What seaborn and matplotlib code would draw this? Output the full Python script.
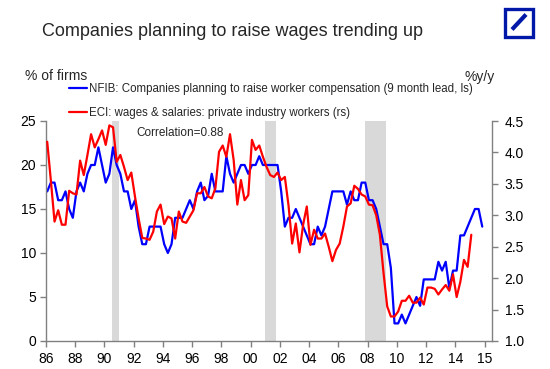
import numpy as np
import pandas as pd
import matplotlib
matplotlib.use("Agg")
import matplotlib.pyplot as plt
from matplotlib.patches import Rectangle
from matplotlib.lines import Line2D
import seaborn as sns

# quarterly readings, first point Feb 1986
nfib = [17, 18, 18, 16, 16, 17, 15, 14, 17, 18,
        17, 19, 20, 20, 22, 20, 18, 19, 22, 20,
        19, 17, 17, 15, 16, 13, 11, 11, 13, 13,
        13, 13, 11, 10, 11, 14, 14, 14, 15, 16,
        15, 17, 18, 16, 16.5, 19, 17, 17, 17, 21,
        19, 18, 19, 20, 20, 19, 20, 20, 21, 20,
        20, 20, 20, 20, 17, 13, 14, 14, 15, 14,
        13, 12, 11, 11, 13, 12, 13, 15, 17, 17,
        17, 17, 15.5, 17, 16, 16, 18, 18, 16, 16,
        15, 13, 11, 11, 8.3, 2, 2, 3, 2, 3,
        4, 5, 4, 7, 7, 7, 7, 9, 8, 9,
        6, 8, 8, 12, 12, 13, 14, 15, 15, 13]

eci = [4.17, 3.55, 2.90, 3.08, 2.85, 2.85, 3.39, 3.35, 3.33, 3.87,
       3.64, 3.96, 4.29, 4.08, 4.21, 4.35, 4.12, 4.43, 4.40, 3.85,
       3.96, 3.77, 3.56, 3.68, 3.30, 2.95, 2.64, 2.63, 2.61, 2.74,
       3.06, 3.17, 2.86, 2.98, 2.95, 2.63, 3.06, 2.90, 2.88, 2.98,
       3.08, 3.35, 3.35, 3.45, 3.30, 3.27, 3.43, 4.01, 4.11, 3.93,
       4.29, 3.88, 3.17, 3.56, 3.24, 3.32, 4.20, 4.04, 4.11, 3.93,
       3.77, 3.64, 3.61, 3.68, 3.56, 3.61, 3.16, 2.55, 2.87, 2.41,
       2.85, 3.14, 2.53, 2.77, 2.63, 2.63, 2.71, 2.50, 2.27, 2.45,
       2.55, 2.82, 3.14, 3.19, 3.47, 3.42, 3.33, 3.30, 3.17, 3.16,
       3.00, 2.69, 2.08, 1.55, 1.39, 1.39, 1.47, 1.64, 1.64, 1.72,
       1.61, 1.61, 1.69, 1.58, 1.85, 1.85, 1.83, 1.74, 1.82, 1.89,
       1.80, 2.06, 1.70, 1.94, 2.29, 2.18, 2.69]

recessions = [(1990.5, 1991.0), (2001.0, 2001.7), (2007.8, 2009.25)]
xticks = list(range(1986, 2017, 2))
xtick_labels = ["86", "88", "90", "92", "94", "96", "98", "00",
                "02", "04", "06", "08", "10", "12", "14", "15"]

nfib_label = "NFIB: Companies planning to raise worker compensation (9 month lead, ls)"
eci_label = "ECI: wages & salaries: private industry workers (rs)"

dates = pd.date_range("1986-02-01", periods=len(nfib), freq="3MS")
year = dates.year + (dates.month - 1) / 12
df_nfib = pd.DataFrame({"year": year, "value": nfib})
df_eci = pd.DataFrame({"year": year[:len(eci)], "value": eci})

sns.set_style("ticks")
plt.rcParams["font.family"] = ["Liberation Sans", "DejaVu Sans"]

GREY = "#808080"
W, H = 550, 369
fig = plt.figure(figsize=(5.5, 3.69), dpi=100)
ax = fig.add_axes([46 / W, 1 - 341 / H, 446 / W, 220 / H])
ax2 = ax.twinx()

for a, b in recessions:
    ax.axvspan(a, b, color="#d9d9d9", lw=0, zorder=0)

sns.lineplot(data=df_nfib, x="year", y="value", ax=ax, color="#0000ff",
             linewidth=1.6, label=nfib_label, legend=False)
sns.lineplot(data=df_eci, x="year", y="value", ax=ax2, color="#ff0000",
             linewidth=1.6, label=eci_label, legend=False)

ax.set_xlim(1986, 2016.5)
ax.set_ylim(0, 25)
ax2.set_ylim(1.0, 4.5)
ax.set_xticks(xticks)
ax.set_xticklabels(xtick_labels)
ax.set_yticks(range(0, 26, 5))
ax2.set_yticks(np.arange(1.0, 4.51, 0.5))
ax2.set_yticklabels([f"{v:.1f}" for v in np.arange(1.0, 4.51, 0.5)])
for a in (ax, ax2):
    a.set_xlabel("")
    a.set_ylabel("")
    a.tick_params(direction="out", length=4, width=1, color=GREY,
                  labelsize=10, labelcolor="black", pad=3)
    for s in a.spines.values():
        s.set_color(GREY)
        s.set_linewidth(1)
ax2.tick_params(axis="y", pad=5)
ax.tick_params(axis="x", pad=4)
ax.spines["top"].set_visible(False)
ax.spines["right"].set_visible(False)
ax2.spines["top"].set_visible(False)
ax2.spines["left"].set_visible(False)
ax2.spines["bottom"].set_visible(False)

handles = ax.get_lines()[:1] + ax2.get_lines()[:1]
fig.legend(handles, [nfib_label, eci_label], loc="upper left",
           bbox_to_anchor=(69 / W, 1 - 83 / H), frameon=False,
           fontsize=8.3, handlelength=1.55, handletextpad=0.2,
           borderpad=0, borderaxespad=0, labelspacing=1.05)

fig.text(233 / W, 1 - 31 / H, "Companies planning to raise wages trending up",
         ha="center", va="center", fontsize=13)
fig.text(25 / W, 1 - 76.5 / H, "% of firms", ha="left", va="center", fontsize=10)
fig.text(495 / W, 1 - 76.5 / H, "%y/y", ha="right", va="center", fontsize=10)
fig.text(136 / W, 1 - 133 / H, "Correlation=0.88", ha="left", va="center",
         fontsize=8.5)

# logo
fig.add_artist(Rectangle((504.5 / W, 1 - 36.5 / H), 28 / W, 28 / H,
                         transform=fig.transFigure, fill=False,
                         edgecolor="#0018a8", linewidth=2.4))
fig.add_artist(Line2D([512 / W, 526 / W], [1 - 29.5 / H, 1 - 14.5 / H],
                      transform=fig.transFigure, color="#0018a8",
                      linewidth=3, solid_capstyle="butt"))

fig.savefig("out.png", dpi=100)
